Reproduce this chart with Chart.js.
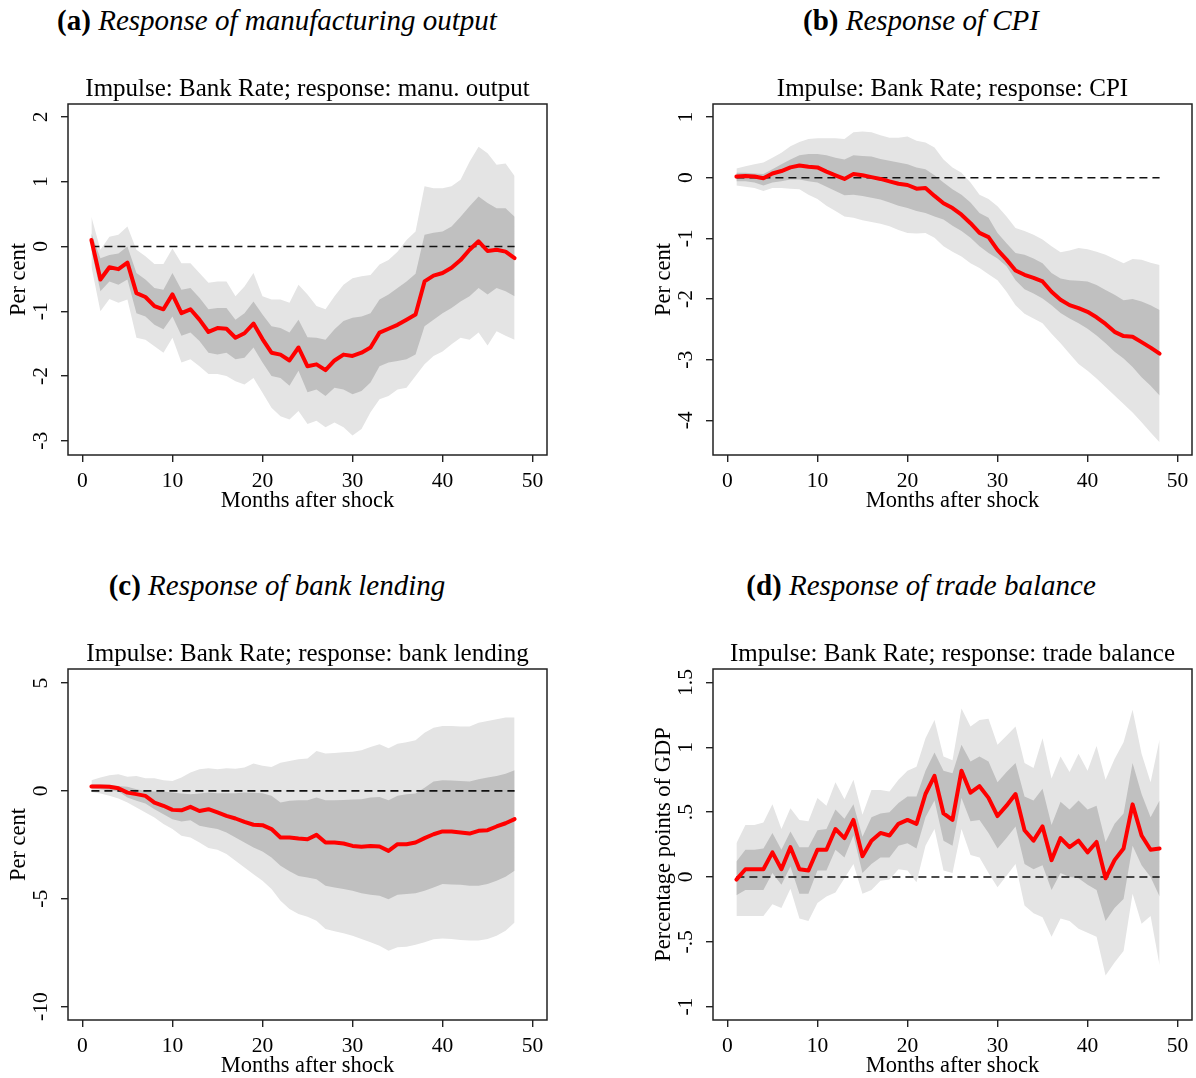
<!DOCTYPE html>
<html>
<head>
<meta charset="utf-8">
<script src="https://cdn.jsdelivr.net/npm/chart.js@4.4.0/dist/chart.umd.min.js"></script>
<style>
  body { margin: 0; width: 1196px; height: 1078px; background: #fff; position: relative; overflow: hidden;
         font-family: "Liberation Serif", serif; }
  .head { position: absolute; text-align: center; font-size: 29px; line-height: 40px; white-space: nowrap; color: #000; }
  canvas { position: absolute; }
</style>
</head>
<body>
<div class="head" style="left:0;top:0;width:554px"><b>(a)</b> <i>Response of manufacturing output</i></div>
<div class="head" style="left:645px;top:0;width:552px"><b>(b)</b> <i>Response of CPI</i></div>
<div class="head" style="left:0;top:565px;width:554px"><b>(c)</b> <i>Response of bank lending</i></div>
<div class="head" style="left:645px;top:565px;width:552px"><b>(d)</b> <i>Response of trade balance</i></div>

<canvas id="cA" width="560" height="470" style="left:0;top:50px"></canvas>
<canvas id="cB" width="551" height="470" style="left:645px;top:50px"></canvas>
<canvas id="cC" width="560" height="470" style="left:0;top:615px"></canvas>
<canvas id="cD" width="551" height="470" style="left:645px;top:615px"></canvas>

<script>
// months after shock
const months = [1,2,3,4,5,6,7,8,9,10,11,12,13,14,15,16,17,18,19,20,21,22,23,24,
                25,26,27,28,29,30,31,32,33,34,35,36,37,38,39,40,41,42,43,44,45,46,47,48];
const xTicks = [0, 10, 20, 30, 40, 50];

// (a) manufacturing output
const aMid = [0.10,-0.51,-0.32,-0.35,-0.25,-0.72,-0.78,-0.92,-0.97,-0.74,-1.03,-0.97,-1.13,-1.32,-1.26,-1.27,-1.41,-1.34,-1.19,-1.43,-1.64,-1.67,-1.76,-1.56,
              -1.85,-1.82,-1.91,-1.76,-1.67,-1.69,-1.64,-1.56,-1.33,-1.27,-1.21,-1.13,-1.05,-0.54,-0.45,-0.41,-0.33,-0.21,-0.05,0.08,-0.07,-0.05,-0.08,-0.18];
const aInHi = [0.20,-0.18,-0.13,-0.11,0.00,-0.41,-0.51,-0.64,-0.67,-0.41,-0.67,-0.64,-0.79,-0.97,-0.95,-0.95,-1.13,-1.03,-0.85,-1.05,-1.23,-1.26,-1.33,-1.13,
               -1.40,-1.41,-1.44,-1.28,-1.15,-1.10,-1.08,-1.03,-0.82,-0.74,-0.64,-0.54,-0.42,0.18,0.21,0.23,0.31,0.46,0.62,0.77,0.67,0.59,0.59,0.46];
const aInLo = [-0.05,-0.69,-0.54,-0.59,-0.51,-1.03,-1.08,-1.21,-1.28,-1.08,-1.38,-1.33,-1.46,-1.64,-1.67,-1.64,-1.74,-1.72,-1.56,-1.79,-2.00,-2.03,-2.15,-1.92,
               -2.25,-2.21,-2.31,-2.18,-2.21,-2.28,-2.23,-2.10,-1.85,-1.79,-1.77,-1.74,-1.67,-1.23,-1.13,-1.03,-0.95,-0.85,-0.77,-0.64,-0.74,-0.64,-0.69,-0.77];
const aOutHi = [0.46,-0.05,0.15,0.18,0.31,-0.05,-0.15,-0.27,-0.27,-0.03,-0.26,-0.26,-0.41,-0.56,-0.54,-0.54,-0.77,-0.62,-0.41,-0.77,-0.82,-0.82,-0.87,-0.59,
                -0.74,-0.92,-0.97,-0.77,-0.59,-0.49,-0.46,-0.44,-0.28,-0.21,-0.08,0.10,0.23,0.93,0.90,0.90,0.93,1.03,1.31,1.54,1.44,1.26,1.28,1.09];
const aOutLo = [-0.31,-1.00,-0.81,-0.87,-0.82,-1.41,-1.44,-1.54,-1.64,-1.41,-1.79,-1.74,-1.85,-1.97,-1.97,-2.00,-2.08,-2.13,-2.03,-2.26,-2.49,-2.62,-2.67,-2.54,
                -2.74,-2.69,-2.79,-2.72,-2.79,-2.92,-2.82,-2.56,-2.36,-2.31,-2.21,-2.18,-2.00,-1.82,-1.69,-1.62,-1.51,-1.41,-1.44,-1.33,-1.53,-1.31,-1.38,-1.44];
const aTicks = [-3, -2, -1, 0, 1, 2];

// (b) CPI
const bMid = [0.02,0.03,0.02,-0.01,0.07,0.11,0.17,0.20,0.18,0.17,0.10,0.04,-0.02,0.06,0.04,0.01,-0.02,-0.06,-0.10,-0.12,-0.18,-0.17,-0.30,-0.42,
              -0.50,-0.61,-0.75,-0.91,-0.98,-1.19,-1.35,-1.53,-1.60,-1.65,-1.71,-1.88,-2.01,-2.10,-2.15,-2.21,-2.30,-2.41,-2.54,-2.61,-2.62,-2.71,-2.80,-2.90];
const bInHi = [0.08,0.08,0.07,0.06,0.14,0.22,0.30,0.37,0.39,0.39,0.37,0.33,0.30,0.37,0.36,0.35,0.31,0.28,0.25,0.22,0.17,0.14,0.04,-0.08,
               -0.19,-0.28,-0.41,-0.58,-0.66,-0.91,-1.08,-1.24,-1.27,-1.33,-1.41,-1.57,-1.66,-1.69,-1.70,-1.71,-1.77,-1.85,-1.93,-2.02,-2.00,-2.04,-2.10,-2.18];
const bInLo = [-0.06,-0.06,-0.08,-0.13,-0.08,-0.06,-0.03,-0.03,-0.06,-0.08,-0.15,-0.22,-0.29,-0.28,-0.30,-0.33,-0.36,-0.41,-0.46,-0.50,-0.55,-0.58,-0.64,-0.69,
               -0.79,-0.88,-0.99,-1.13,-1.24,-1.33,-1.46,-1.69,-1.84,-1.91,-1.99,-2.10,-2.23,-2.32,-2.40,-2.49,-2.60,-2.73,-2.87,-2.98,-3.12,-3.29,-3.43,-3.59];
const bOutHi = [0.15,0.19,0.22,0.25,0.33,0.41,0.52,0.59,0.64,0.65,0.65,0.65,0.64,0.75,0.76,0.75,0.70,0.66,0.66,0.68,0.61,0.58,0.50,0.30,
                0.17,0.08,-0.08,-0.28,-0.35,-0.47,-0.64,-0.83,-0.88,-0.94,-1.02,-1.13,-1.23,-1.20,-1.16,-1.18,-1.22,-1.27,-1.34,-1.41,-1.34,-1.35,-1.40,-1.44];
const bOutLo = [-0.13,-0.15,-0.17,-0.22,-0.17,-0.17,-0.18,-0.19,-0.28,-0.35,-0.46,-0.55,-0.64,-0.66,-0.70,-0.73,-0.76,-0.80,-0.86,-0.91,-0.92,-0.91,-0.99,-1.13,
                -1.22,-1.30,-1.41,-1.49,-1.59,-1.69,-1.88,-2.10,-2.24,-2.32,-2.40,-2.57,-2.73,-2.90,-3.07,-3.18,-3.31,-3.45,-3.59,-3.73,-3.87,-4.03,-4.20,-4.36];
const bTicks = [-4, -3, -2, -1, 0, 1];

// (c) bank lending
const cMid = [0.20,0.20,0.19,0.12,-0.08,-0.15,-0.23,-0.54,-0.69,-0.88,-0.90,-0.74,-0.93,-0.85,-1.00,-1.16,-1.28,-1.44,-1.57,-1.59,-1.77,-2.16,-2.16,-2.21,
              -2.24,-2.04,-2.39,-2.39,-2.44,-2.55,-2.59,-2.55,-2.58,-2.78,-2.47,-2.47,-2.39,-2.19,-2.01,-1.88,-1.88,-1.93,-1.98,-1.85,-1.82,-1.65,-1.50,-1.31];
const cInHi = [0.31,0.31,0.28,0.23,0.19,0.08,0.00,-0.03,-0.03,-0.08,-0.12,-0.15,-0.12,-0.08,-0.11,-0.11,-0.11,-0.08,-0.09,-0.11,-0.23,-0.54,-0.46,-0.43,
               -0.43,-0.31,-0.43,-0.43,-0.42,-0.40,-0.39,-0.31,-0.28,-0.43,-0.23,-0.15,-0.12,0.15,0.43,0.49,0.48,0.46,0.43,0.54,0.62,0.69,0.80,0.96];
const cInLo = [0.12,0.08,0.03,-0.03,-0.31,-0.46,-0.59,-0.85,-1.08,-1.31,-1.42,-1.36,-1.62,-1.70,-1.77,-1.93,-2.16,-2.39,-2.62,-2.81,-3.09,-3.47,-3.73,-3.94,
               -4.01,-4.09,-4.40,-4.48,-4.55,-4.63,-4.75,-4.81,-4.86,-5.02,-4.81,-4.78,-4.74,-4.63,-4.48,-4.32,-4.34,-4.35,-4.40,-4.40,-4.32,-4.17,-3.98,-3.70];
const cOutHi = [0.49,0.62,0.73,0.77,0.66,0.69,0.59,0.59,0.49,0.46,0.62,0.85,1.00,1.05,1.00,1.05,1.03,1.08,1.27,1.16,1.11,1.31,1.39,1.47,
                1.50,1.85,1.73,1.76,1.79,1.82,1.88,2.04,2.16,1.98,2.19,2.25,2.35,2.70,2.93,3.01,3.01,2.99,2.98,3.16,3.24,3.32,3.40,3.40];
const cOutLo = [-0.05,-0.12,-0.23,-0.35,-0.54,-0.77,-1.00,-1.23,-1.54,-1.77,-2.08,-2.16,-2.39,-2.65,-2.73,-2.93,-3.24,-3.55,-3.86,-4.17,-4.55,-5.09,-5.48,-5.71,
                -5.83,-6.02,-6.40,-6.51,-6.60,-6.71,-6.87,-7.02,-7.18,-7.41,-7.25,-7.22,-7.13,-7.02,-6.88,-6.84,-6.87,-6.91,-6.94,-6.94,-6.87,-6.71,-6.48,-6.10];
const cTicks = [-10, -5, 0, 5];

// (d) trade balance
const dMid = [-0.02,0.06,0.06,0.06,0.19,0.06,0.23,0.06,0.05,0.21,0.21,0.37,0.30,0.44,0.16,0.28,0.34,0.32,0.41,0.44,0.41,0.64,0.78,0.49,
              0.44,0.82,0.65,0.70,0.61,0.47,0.55,0.64,0.36,0.28,0.39,0.13,0.30,0.23,0.28,0.19,0.27,-0.01,0.13,0.22,0.56,0.32,0.21,0.22];
const dInHi = [0.12,0.21,0.21,0.22,0.34,0.21,0.35,0.23,0.23,0.36,0.37,0.52,0.45,0.56,0.31,0.46,0.49,0.50,0.57,0.62,0.62,0.82,0.96,0.82,
               0.80,1.02,0.89,0.93,0.89,0.73,0.81,0.88,0.62,0.59,0.68,0.40,0.58,0.52,0.59,0.52,0.55,0.27,0.41,0.49,0.88,0.64,0.46,0.59];
const dInLo = [-0.14,-0.10,-0.10,-0.10,0.03,-0.06,0.08,-0.13,-0.13,0.05,0.05,0.21,0.15,0.32,0.03,0.10,0.15,0.15,0.24,0.26,0.22,0.46,0.59,0.28,
               0.24,0.61,0.43,0.44,0.34,0.22,0.30,0.39,0.10,0.06,0.09,-0.10,0.03,0.00,-0.01,-0.06,-0.10,-0.34,-0.24,-0.17,0.24,0.09,0.00,-0.15];
const dOutHi = [0.26,0.40,0.40,0.42,0.56,0.37,0.53,0.44,0.43,0.61,0.55,0.73,0.60,0.75,0.48,0.67,0.67,0.66,0.75,0.82,0.85,1.07,1.21,0.93,
                0.90,1.30,1.16,1.21,1.22,1.02,1.09,1.16,0.88,0.84,1.07,0.76,0.93,0.81,0.95,0.82,1.01,0.75,0.91,1.04,1.29,0.95,0.73,1.06];
const dOutLo = [-0.30,-0.30,-0.30,-0.30,-0.21,-0.24,-0.09,-0.32,-0.34,-0.20,-0.15,-0.12,-0.01,0.10,-0.13,-0.10,-0.03,-0.02,0.06,0.05,-0.04,0.24,0.37,0.05,
                0.03,0.37,0.17,0.15,0.03,-0.08,0.01,0.10,-0.22,-0.28,-0.31,-0.46,-0.32,-0.34,-0.40,-0.43,-0.46,-0.76,-0.66,-0.57,-0.13,-0.36,-0.30,-0.68];
const dTicks = [-1, -0.5, 0, 0.5, 1, 1.5];

const SERIF = '"Liberation Serif", serif';

// stata style labels: .5 instead of 0.5
function fmt(v) {
  return String(v).replace(/^(-?)0\./, '$1.');
}

// frame round the plot + rotated y tick labels
const framePlugin = {
  id: 'frame',
  afterDraw(chart) {
    const ctx = chart.ctx;
    const a = chart.chartArea;
    ctx.save();
    ctx.strokeStyle = '#222';
    ctx.lineWidth = 1.5;
    ctx.strokeRect(a.left, a.top, a.right - a.left, a.bottom - a.top);

    const ys = chart.scales.y;
    ctx.fillStyle = '#000';
    ctx.font = '21.5px ' + SERIF;
    ctx.textAlign = 'center';
    ctx.textBaseline = 'middle';
    ys.ticks.forEach(t => {
      const py = ys.getPixelForValue(t.value);
      ctx.save();
      ctx.translate(a.left - 27, py);
      ctx.rotate(-Math.PI / 2);
      ctx.fillText(fmt(t.value), 0, 0);
      ctx.restore();
    });
    ctx.restore();
  }
};

function pts(vals) {
  return vals.map((v, i) => ({ x: months[i], y: v }));
}

function makePanel(id, subtitle, yTitle, mid, inLo, inHi, outLo, outHi, yTicks, yMin, yMax, padRight) {
  const ctx = document.getElementById(id).getContext('2d');
  return new Chart(ctx, {
    type: 'line',
    data: {
      datasets: [
        { data: pts(mid), borderColor: '#ff0000', borderWidth: 4, pointRadius: 0,
          borderJoinStyle: 'round', borderCapStyle: 'round', fill: false },
        { data: pts(months.map(() => 0)), borderColor: '#111', borderWidth: 1.6, borderDash: [8, 5],
          pointRadius: 0, fill: false },
        { data: pts(inHi), borderWidth: 0, pointRadius: 0, backgroundColor: '#c0c0c0', fill: 3 },
        { data: pts(inLo), borderWidth: 0, pointRadius: 0, fill: false },
        { data: pts(outHi), borderWidth: 0, pointRadius: 0, backgroundColor: '#e4e4e4', fill: 5 },
        { data: pts(outLo), borderWidth: 0, pointRadius: 0, fill: false }
      ]
    },
    options: {
      responsive: false,
      animation: false,
      devicePixelRatio: 1,
      layout: { padding: { left: 0, right: padRight, top: 0, bottom: 3 } },
      plugins: {
        legend: { display: false },
        tooltip: { enabled: false },
        title: {
          display: true, text: subtitle, fullSize: false, color: '#000',
          font: { family: SERIF, size: 25, weight: 'normal' },
          padding: { top: 24, bottom: 0 }
        }
      },
      scales: {
        x: {
          type: 'linear', min: -1.6, max: 51.6,
          afterBuildTicks: s => { s.ticks = xTicks.map(v => ({ value: v })); },
          afterFit: s => { s.height = 62; },
          border: { display: false },
          grid: { drawOnChartArea: false, drawTicks: true, tickLength: 7, color: '#222', lineWidth: 1.4 },
          ticks: { color: '#000', font: { family: SERIF, size: 21.5 }, padding: 6.5, maxRotation: 0 },
          title: { display: true, text: 'Months after shock', color: '#000',
                   font: { family: SERIF, size: 22.5 }, padding: { top: 0, bottom: 2 } }
        },
        y: {
          type: 'linear', min: yMin, max: yMax,
          afterBuildTicks: s => { s.ticks = yTicks.map(v => ({ value: v })); },
          afterFit: s => { s.width = 68; },
          border: { display: false },
          grid: { drawOnChartArea: false, drawTicks: true, tickLength: 7, color: '#222', lineWidth: 1.4 },
          ticks: { display: false },
          title: { display: true, text: yTitle, color: '#000',
                   font: { family: SERIF, size: 22.5 }, padding: { top: 5.5, bottom: 0 } }
        }
      }
    },
    plugins: [framePlugin]
  });
}

makePanel('cA', 'Impulse: Bank Rate; response: manu. output', 'Per cent',
          aMid, aInLo, aInHi, aOutLo, aOutHi, aTicks, -3.22, 2.2, 13);
makePanel('cB', 'Impulse: Bank Rate; response: CPI', 'Per cent',
          bMid, bInLo, bInHi, bOutLo, bOutHi, bTicks, -4.57, 1.215, 4);
makePanel('cC', 'Impulse: Bank Rate; response: bank lending', 'Per cent',
          cMid, cInLo, cInHi, cOutLo, cOutHi, cTicks, -10.62, 5.65, 13);
makePanel('cD', 'Impulse: Bank Rate; response: trade balance', 'Percentage points of GDP',
          dMid, dInLo, dInHi, dOutLo, dOutHi, dTicks, -1.103, 1.604, 4);
</script>
</body>
</html>
